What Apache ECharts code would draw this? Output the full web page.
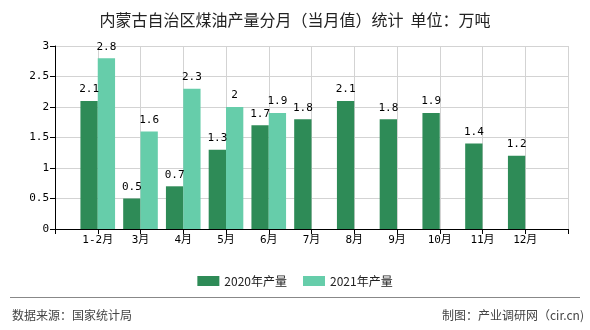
<!DOCTYPE html>
<html>
<head>
<meta charset="utf-8">
<script src="https://cdn.jsdelivr.net/npm/echarts@6/dist/echarts.min.js"></script>
<style>
html,body{margin:0;padding:0;background:#fff;}
#chart{width:590px;height:330px;}
</style>
</head>
<body>
<div id="chart"></div>
<script>
var titleText = '内蒙古自治区煤油产量分月（当月值）统计  单位：万吨';
var categories = ['1-2月','3月','4月','5月','6月','7月','8月','9月','10月','11月','12月'];
var values2020 = [2.1, 0.5, 0.7, 1.3, 1.7, 1.8, 2.1, 1.8, 1.9, 1.4, 1.2];
var values2021 = [2.8, 1.6, 2.3, 2, 1.9];
var seriesNames = ['2020年产量', '2021年产量'];
var yTicks = [0, 0.5, 1, 1.5, 2, 2.5, 3];
var sourceText = '数据来源：国家统计局';
var makerText = '制图：产业调研网（cir.cn)';

function pad(arr) {
  var out = ['-'];
  for (var i = 0; i < categories.length; i++) {
    out.push(i < arr.length ? arr[i] : '-');
  }
  out.push('-');
  return out;
}
var axisCats = [''].concat(categories).concat(['']);

var monoFont = '"DejaVu Sans Mono", "Noto Sans CJK SC", monospace';
var chart = echarts.init(document.getElementById('chart'));
chart.setOption({
  animation: false,
  backgroundColor: '#fff',
  title: {
    text: titleText,
    left: 'center',
    top: 7,
    textStyle: { fontSize: 16, fontWeight: 'normal', color: '#222', fontFamily: '"Noto Sans CJK SC", sans-serif' }
  },
  legend: {
    data: seriesNames,
    top: 270,
    left: 'center',
    itemWidth: 22,
    itemHeight: 10,
    itemGap: 16,
    icon: 'rect',
    textStyle: { fontSize: 12, color: '#222', fontFamily: '"Noto Sans CJK SC", sans-serif' }
  },
  grid: { left: 55, right: 22, top: 46, bottom: 101, containLabel: false },
  xAxis: {
    type: 'category',
    data: axisCats,
    boundaryGap: false,
    axisLine: { lineStyle: { color: '#000' } },
    axisTick: { show: true, interval: 0, lineStyle: { color: '#000' } },
    axisLabel: { interval: 0, color: '#000', fontSize: 11, fontFamily: monoFont, margin: 6 },
    splitLine: { show: true, interval: 0, lineStyle: { color: '#d3d3d3' } }
  },
  yAxis: {
    type: 'value',
    min: yTicks[0],
    max: yTicks[yTicks.length - 1],
    interval: yTicks[1] - yTicks[0],
    axisLine: { show: true, lineStyle: { color: '#000' } },
    axisTick: { show: true, lineStyle: { color: '#000' } },
    axisLabel: { color: '#000', fontSize: 11, fontFamily: monoFont, margin: 6 },
    splitLine: { show: true, lineStyle: { color: '#d3d3d3' } }
  },
  series: [
    {
      name: seriesNames[0],
      type: 'bar',
      data: pad(values2020),
      barGap: 0,
      barCategoryGap: '19%',
      itemStyle: { color: '#2e8b57' },
      label: { show: true, position: 'top', color: '#000', fontSize: 11, fontFamily: monoFont, distance: 6 }
    },
    {
      name: seriesNames[1],
      type: 'bar',
      data: pad(values2021),
      barGap: 0,
      barCategoryGap: '19%',
      itemStyle: { color: '#66cdaa' },
      label: { show: true, position: 'top', color: '#000', fontSize: 11, fontFamily: monoFont, distance: 6 }
    }
  ],
  graphic: [
    { type: 'line', shape: { x1: 10, y1: 297.5, x2: 580, y2: 297.5 }, style: { stroke: '#888', lineWidth: 1 } },
    { type: 'text', left: 12, top: 309, style: { text: sourceText, fill: '#444', fontSize: 12, fontFamily: '"Noto Sans CJK SC", sans-serif' } },
    { type: 'text', right: 6, top: 309, style: { text: makerText, fill: '#444', fontSize: 12, fontFamily: '"Noto Sans CJK SC", sans-serif' } }
  ]
});
</script>
</body>
</html>
